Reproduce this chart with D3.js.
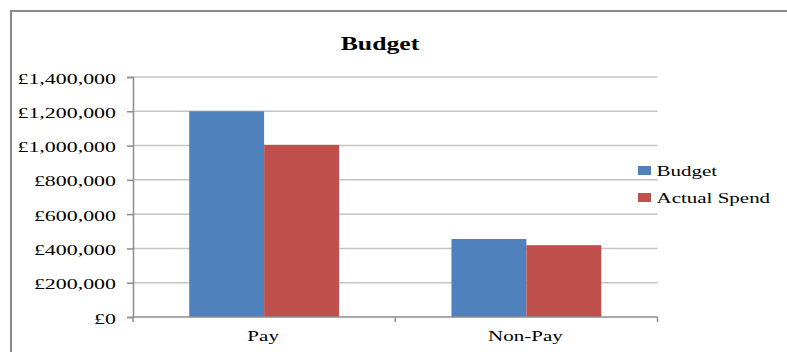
<!DOCTYPE html>
<html>
<head>
<meta charset="utf-8">
<script src="https://cdn.jsdelivr.net/npm/d3@7"></script>
<style>
  html, body { margin: 0; padding: 0; background: #fff; }
  svg { display: block; }
  text { font-family: "Liberation Serif", "Times New Roman", serif; fill: #000; }
</style>
</head>
<body>
<svg id="chart" width="787" height="352"></svg>
<script>
// Budget vs actual spend by cost category
const categories = ["Pay", "Non-Pay"];
const seriesNames = ["Budget", "Actual Spend"];
const budgetValues = [1200000, 455000];
const actualValues = [1004000, 419000];
const yTicks = [0, 200000, 400000, 600000, 800000, 1000000, 1200000, 1400000];
const chartTitle = "Budget";

const colors = { "Budget": "#4f81bd", "Actual Spend": "#c0504d" };

const svg = d3.select("#chart");

// chart frame (left and top edges)
svg.append("path")
  .attr("d", "M11,352 L11,11 L787,11")
  .attr("fill", "none")
  .attr("stroke", "#8a8a8a")
  .attr("stroke-width", 2);

const plot = { left: 133, right: 657.5, top: 77, bottom: 317 };

const y = d3.scaleLinear()
  .domain([0, 1400000])
  .range([plot.bottom, plot.top]);

const x0 = d3.scaleBand()
  .domain(categories)
  .range([plot.left, plot.right])
  .paddingInner(0).paddingOuter(0);

// bars fill 2 of 3.5 slots per category (150% gap width)
const slot = x0.bandwidth() / 3.5;
const x1 = d3.scaleBand()
  .domain(seriesNames)
  .range([slot * 0.75, slot * 2.75])
  .padding(0);

// horizontal gridlines
svg.append("g")
  .selectAll("line")
  .data(yTicks.filter(d => d > 0))
  .join("line")
  .attr("x1", plot.left)
  .attr("x2", plot.right)
  .attr("y1", d => y(d))
  .attr("y2", d => y(d))
  .attr("stroke", "#c4c4c4")
  .attr("stroke-width", 1.5);

// bars
const rows = categories.map((c, i) => ({
  category: c,
  values: [
    { series: "Budget", value: budgetValues[i] },
    { series: "Actual Spend", value: actualValues[i] }
  ]
}));

const groups = svg.append("g")
  .selectAll("g")
  .data(rows)
  .join("g")
  .attr("transform", d => `translate(${x0(d.category)},0)`);

groups.selectAll("rect")
  .data(d => d.values)
  .join("rect")
  .attr("x", d => x1(d.series))
  .attr("width", x1.bandwidth())
  .attr("y", d => y(d.value))
  .attr("height", d => y(0) - y(d.value))
  .attr("fill", d => colors[d.series]);

// y axis
const fmt = d => "£" + d3.format(",")(d);
const yAxis = svg.append("g")
  .attr("transform", `translate(${plot.left},0)`)
  .call(d3.axisLeft(y).tickValues(yTicks).tickSize(6).tickFormat(""));
yAxis.select(".domain").attr("stroke", "#8c8c8c").attr("stroke-width", 1.5);
yAxis.selectAll(".tick line").attr("stroke", "#8c8c8c").attr("stroke-width", 1.5);

// y labels (wide serif face)
const yLab = svg.append("g").selectAll("g")
  .data(yTicks)
  .join("g")
  .attr("transform", d => `translate(116,${y(d) + 6.5}) scale(1.48,1)`);
yLab.append("text")
  .attr("text-anchor", "end")
  .style("font-size", "14.8px")
  .text(fmt);

// x axis
const xAxis = svg.append("g")
  .attr("transform", `translate(0,${plot.bottom})`)
  .call(d3.axisBottom(x0).tickSize(0).tickFormat(""));
xAxis.select(".domain").remove();
xAxis.append("line")
  .attr("x1", plot.left).attr("x2", plot.right)
  .attr("stroke", "#8c8c8c").attr("stroke-width", 1.5);
xAxis.selectAll(".sep")
  .data([plot.left, (plot.left + plot.right) / 2, plot.right])
  .join("line")
  .attr("class", "sep")
  .attr("x1", d => d).attr("x2", d => d)
  .attr("y1", 0).attr("y2", 5)
  .attr("stroke", "#8c8c8c").attr("stroke-width", 1.5);

const xLab = svg.append("g").selectAll("g")
  .data(categories)
  .join("g")
  .attr("transform", d => `translate(${x0(d) + x0.bandwidth() / 2 - 1},341) scale(1.45,1)`);
xLab.append("text")
  .attr("text-anchor", "middle")
  .style("font-size", "14.5px")
  .text(d => d);

// title
svg.append("g")
  .attr("transform", "translate(380,50) scale(1.32,1)")
  .append("text")
  .attr("text-anchor", "middle")
  .style("font-size", "19.5px")
  .style("font-weight", "bold")
  .text(chartTitle);

// legend
const legend = svg.append("g").selectAll("g")
  .data(seriesNames)
  .join("g")
  .attr("transform", (d, i) => `translate(638,${166 + i * 27})`);
legend.append("rect")
  .attr("width", 13)
  .attr("height", 9)
  .attr("fill", d => colors[d]);
legend.append("g")
  .attr("transform", "translate(18.5,9.8) scale(1.5,1)")
  .append("text")
  .style("font-size", "14px")
  .text(d => d);
</script>
</body>
</html>
